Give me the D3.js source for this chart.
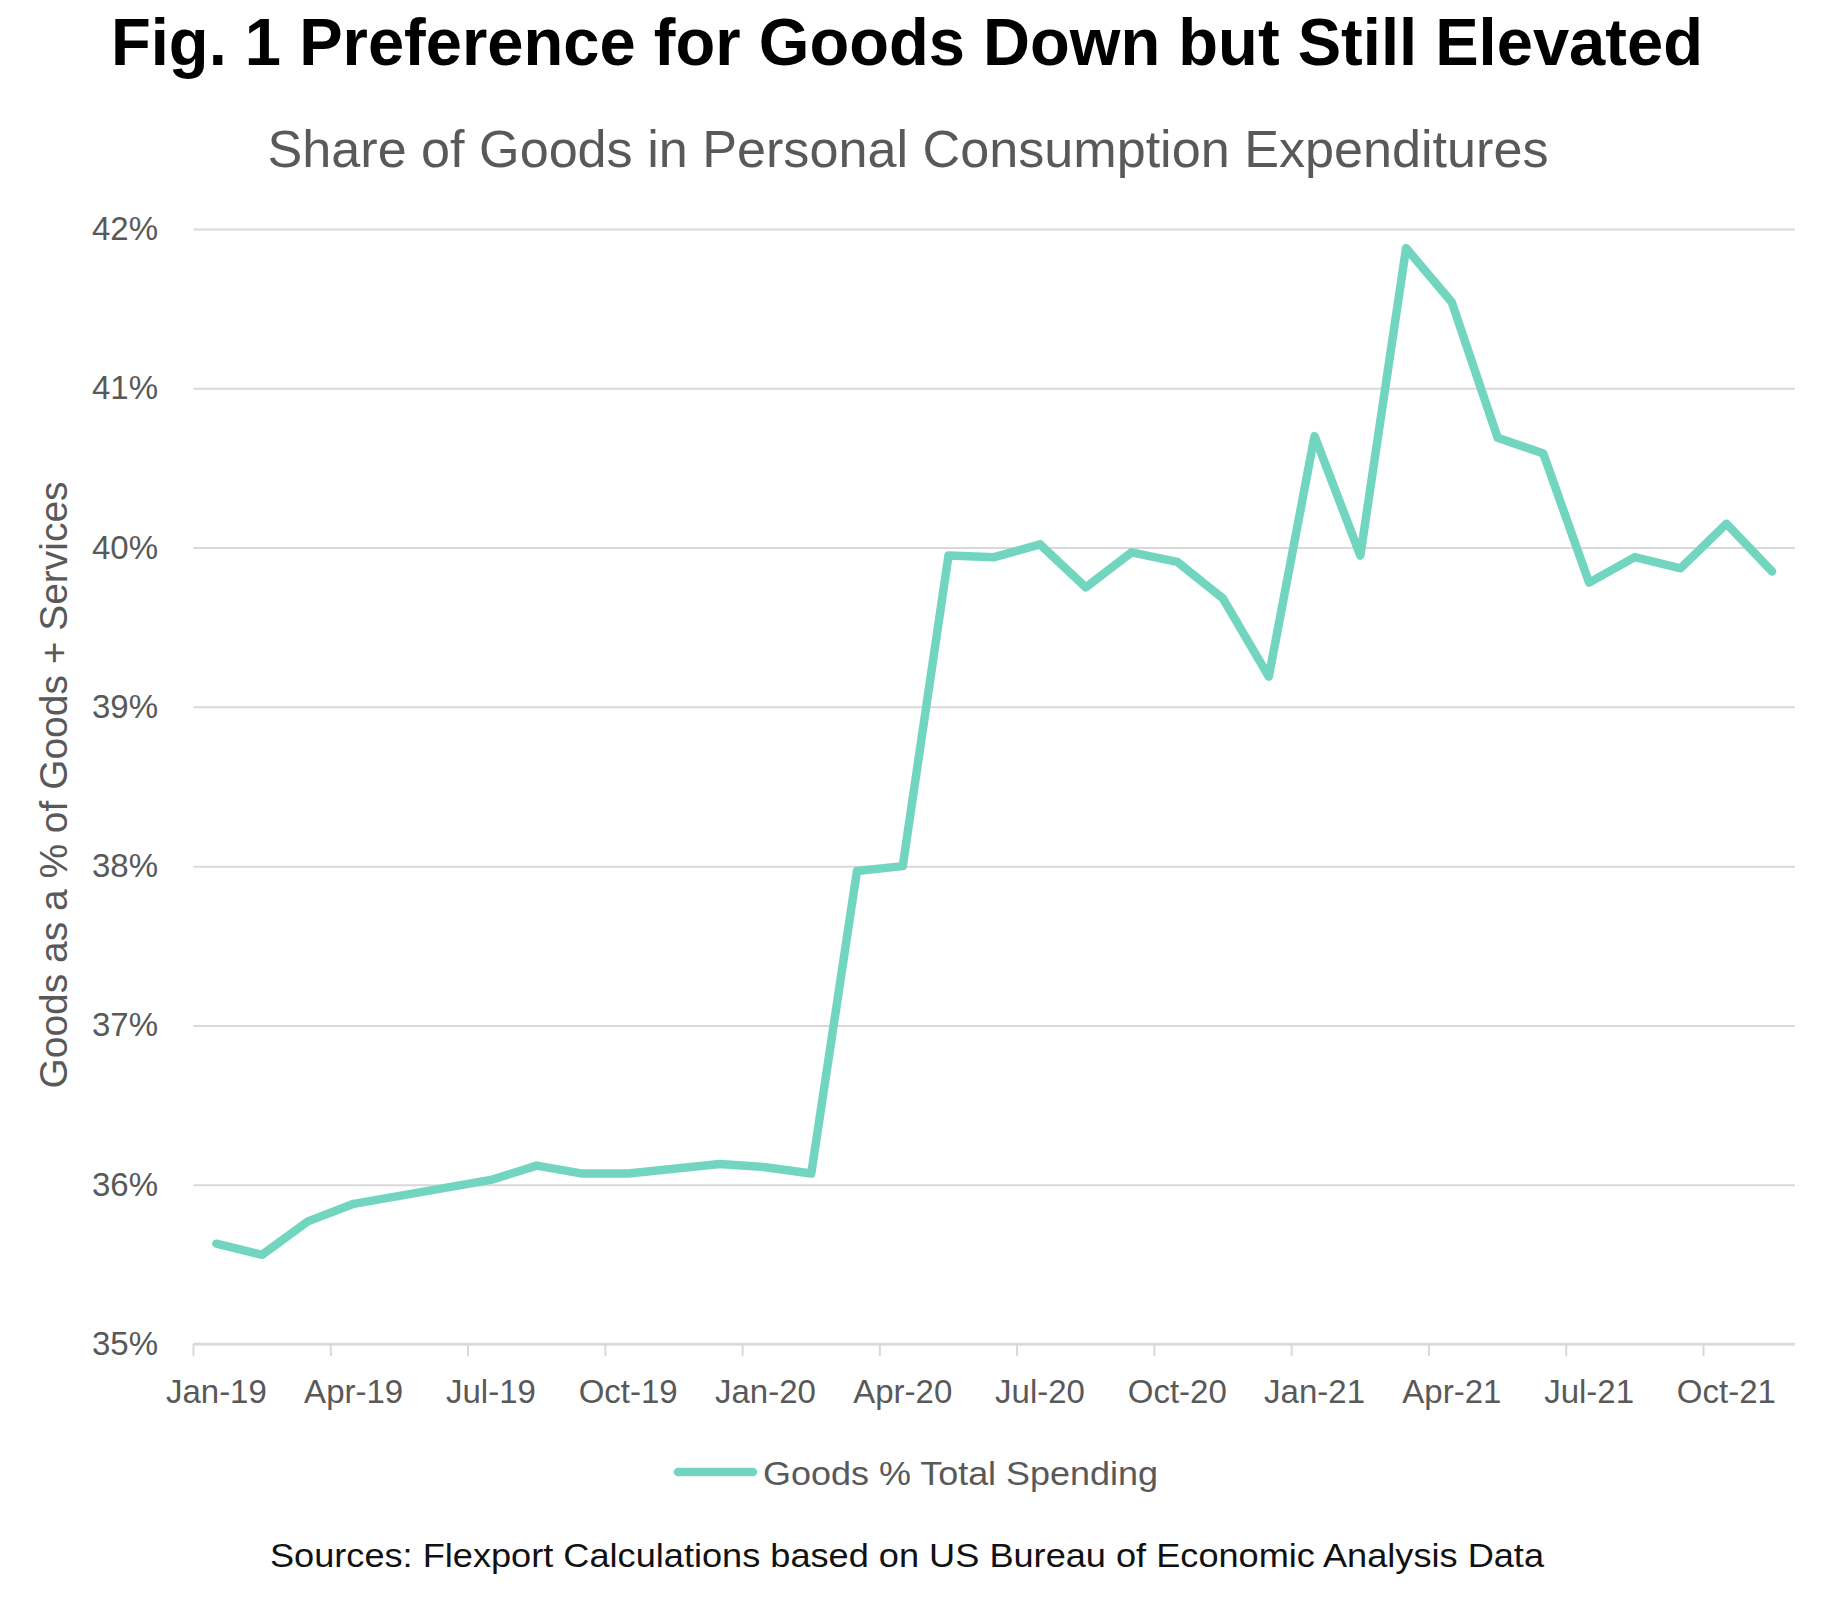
<!DOCTYPE html>
<html>
<head>
	<meta charset="utf-8">
	<script src="https://cdn.jsdelivr.net/npm/d3@7"></script>
	<style>
		body { margin: 0; background: #fff; }
		text { font-family: "Liberation Sans", Arial, sans-serif; }
	</style>
</head>
<body>
<div id="chart"></div>
<script>
	// monthly share of goods in PCE, Jan-19 .. Nov-21
	var months = ["Jan-19","Feb-19","Mar-19","Apr-19","May-19","Jun-19","Jul-19","Aug-19","Sep-19","Oct-19","Nov-19","Dec-19",
		"Jan-20","Feb-20","Mar-20","Apr-20","May-20","Jun-20","Jul-20","Aug-20","Sep-20","Oct-20","Nov-20","Dec-20",
		"Jan-21","Feb-21","Mar-21","Apr-21","May-21","Jun-21","Jul-21","Aug-21","Sep-21","Oct-21","Nov-21"];
	var goodsShare = [35.63,35.56,35.77,35.88,35.93,35.98,36.03,36.12,36.07,36.07,36.10,36.13,
		36.11,36.07,37.97,38.00,39.95,39.94,40.02,39.75,39.97,39.91,39.68,39.19,
		40.70,39.95,41.88,41.54,40.69,40.59,39.78,39.94,39.87,40.15,39.85];
	var quarterLabels = ["Jan-19","Apr-19","Jul-19","Oct-19","Jan-20","Apr-20","Jul-20","Oct-20","Jan-21","Apr-21","Jul-21","Oct-21"];
	var yTicks = [35,36,37,38,39,40,41,42];
	var seriesName = "Goods % Total Spending";

	var W = 1845, H = 1598,
		plotL = 193.5, plotR = 1795, plotT = 229, plotB = 1344,
		cx = 907,
		lineColor = "#72d5bf", textGray = "#595959", gridColor = "#d9d9d9";

	var svg = d3.select("#chart").append("svg")
		.attr("width", W)
		.attr("height", H);
	svg.append("rect").attr("width", W).attr("height", H).attr("fill", "#fff");

	var x = d3.scaleBand().domain(months).range([plotL, plotR]).padding(0);
	var y = d3.scaleLinear().domain([35, 42]).range([plotB, plotT]);

	// gridlines
	svg.append("g")
		.attr("transform", "translate(" + plotL + ",0)")
		.call(d3.axisLeft(y).tickValues(yTicks).tickSize(-(plotR - plotL)).tickFormat(""))
		.call(function(g){
			g.select(".domain").remove();
			g.selectAll("line").attr("stroke", gridColor).attr("stroke-width", 2);
		});

	// y labels
	svg.append("g")
		.attr("transform", "translate(158,0)")
		.call(d3.axisLeft(y).tickValues(yTicks).tickSize(0).tickPadding(0).tickFormat(function(d){ return d + "%"; }))
		.call(function(g){
			g.select(".domain").remove();
			g.selectAll("text")
				.attr("fill", textGray)
				.style("font-size", "33px")
				.style("font-family", "'Liberation Sans', Arial, sans-serif");
		});

	// x axis line and ticks at quarter boundaries
	svg.append("line")
		.attr("x1", plotL).attr("x2", plotR)
		.attr("y1", y(35)).attr("y2", y(35))
		.attr("stroke", gridColor).attr("stroke-width", 2.5);
	svg.append("g").selectAll("line")
		.data(quarterLabels)
		.enter().append("line")
		.attr("x1", function(d){ return x(d); })
		.attr("x2", function(d){ return x(d); })
		.attr("y1", y(35)).attr("y2", y(35) + 12)
		.attr("stroke", gridColor).attr("stroke-width", 2);

	// x labels centered on quarter months
	svg.append("g")
		.attr("transform", "translate(0," + y(35) + ")")
		.call(d3.axisBottom(x).tickValues(quarterLabels).tickSize(0).tickPadding(59))
		.call(function(g){
			g.select(".domain").remove();
			g.selectAll("text")
				.attr("fill", textGray)
				.attr("dy", 0)
				.style("font-size", "33px")
				.style("font-family", "'Liberation Sans', Arial, sans-serif");
		});

	// the series
	var line = d3.line()
		.x(function(d, i){ return x(months[i]) + x.bandwidth() / 2; })
		.y(function(d){ return y(d); });

	svg.append("path")
		.datum(goodsShare)
		.attr("d", line)
		.attr("fill", "none")
		.attr("stroke", lineColor)
		.attr("stroke-width", 8.5)
		.attr("stroke-linejoin", "round")
		.attr("stroke-linecap", "round");

	// titles
	svg.append("text")
		.attr("x", cx).attr("y", 65)
		.attr("text-anchor", "middle")
		.attr("textLength", 1592).attr("lengthAdjust", "spacingAndGlyphs")
		.style("font-size", "66px").style("font-weight", "bold").attr("fill", "#000")
		.text("Fig. 1 Preference for Goods Down but Still Elevated");

	svg.append("text")
		.attr("x", 908).attr("y", 167)
		.attr("text-anchor", "middle")
		.attr("textLength", 1281).attr("lengthAdjust", "spacingAndGlyphs")
		.style("font-size", "52px").attr("fill", textGray)
		.text("Share of Goods in Personal Consumption Expenditures");

	// y axis title
	svg.append("text")
		.attr("transform", "translate(67,785) rotate(-90)")
		.attr("text-anchor", "middle")
		.attr("textLength", 607).attr("lengthAdjust", "spacingAndGlyphs")
		.style("font-size", "38px").attr("fill", textGray)
		.text("Goods as a % of Goods + Services");

	// legend
	var lg = svg.append("g");
	lg.append("line")
		.attr("x1", 678).attr("x2", 753)
		.attr("y1", 1472).attr("y2", 1472)
		.attr("stroke", lineColor).attr("stroke-width", 8.5)
		.attr("stroke-linecap", "round");
	lg.append("text")
		.attr("x", 763).attr("y", 1485)
		.attr("textLength", 395).attr("lengthAdjust", "spacingAndGlyphs")
		.style("font-size", "34px").attr("fill", textGray)
		.text(seriesName);

	// source note
	svg.append("text")
		.attr("x", cx).attr("y", 1567)
		.attr("text-anchor", "middle")
		.attr("textLength", 1274).attr("lengthAdjust", "spacingAndGlyphs")
		.style("font-size", "34px").attr("fill", "#111")
		.text("Sources: Flexport Calculations based on US Bureau of Economic Analysis Data");
</script>
</body>
</html>
